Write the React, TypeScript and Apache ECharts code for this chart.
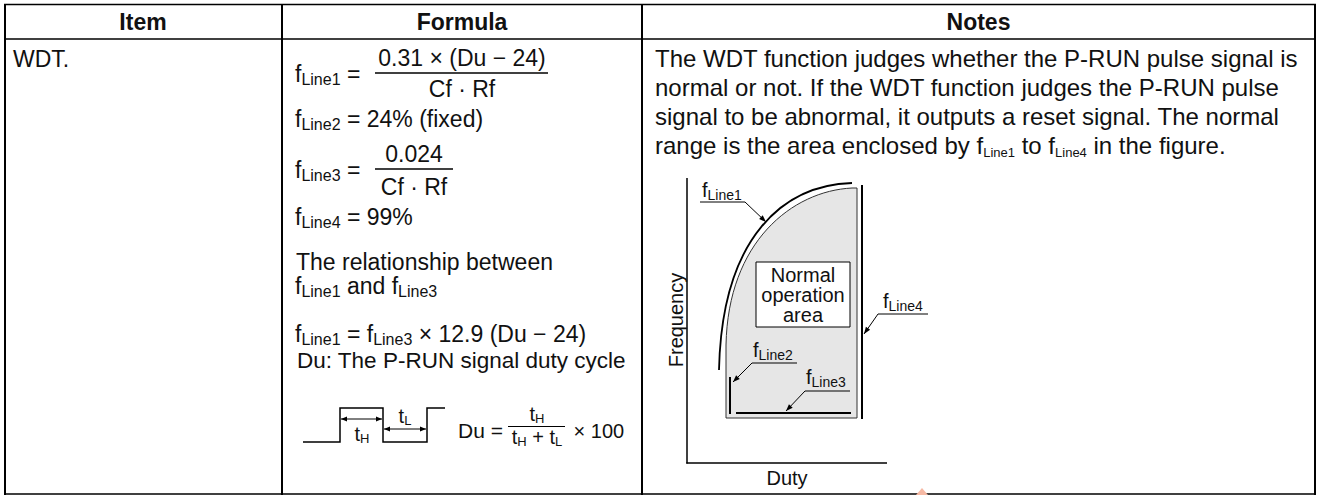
import React, { useEffect, useRef } from 'react';
import * as echarts from 'echarts';

// ---------- content ----------
const headers = ['Item', 'Formula', 'Notes'];
const itemName = 'WDT.';
const notesLines = [
  'The WDT function judges whether the P-RUN pulse signal is',
  'normal or not. If the WDT function judges the P-RUN pulse',
  'signal to be abnormal, it outputs a reset signal. The normal',
];
const notesLast = ['range is the area enclosed by f', 'Line1', ' to f', 'Line4', ' in the figure.'];
const line1Numerator = '0.31 × (Du − 24)';
const denominator = 'Cf · Rf';
const line2Value = ' = 24% (fixed)';
const line3Numerator = '0.024';
const line4Value = ' = 99%';
const relationText = 'The relationship between';
const relationFactor = ' × 12.9 (Du − 24)';
const duText = 'Du: The P-RUN signal duty cycle';
const dutyTimes = ' × 100';
const subNames = ['Line1', 'Line2', 'Line3', 'Line4'];
const areaLabel = ['Normal', 'operation', 'area'];
const axisNames = ['Frequency', 'Duty'];

// ---------- helpers ----------
const FONT = '"Liberation Sans", Arial, Helvetica, sans-serif';
const INK = '#111';
let measureCtx: CanvasRenderingContext2D | null = null;
function tw(text: string, size: number, bold = false): number {
  if (!measureCtx) measureCtx = document.createElement('canvas').getContext('2d');
  measureCtx!.font = `${bold ? 'bold ' : ''}${size}px "Liberation Sans", Arial, sans-serif`;
  return measureCtx!.measureText(text).width;
}
type Seg = { t: string; s: number; dy?: number; b?: boolean };
function textEl(x: number, y: number, t: string, s: number, opts: any = {}) {
  return {
    type: 'text', x, y, silent: true, rotation: opts.rotation || 0,
    style: {
      text: t, fontSize: s, fontFamily: FONT, fontWeight: opts.bold ? 'bold' : 'normal', fill: INK,
      align: opts.align || 'left', verticalAlign: 'middle',
      textAlign: opts.align || 'left', textVerticalAlign: 'middle',
    },
  };
}
function run(x: number, baseline: number, segs: Seg[], center = false): any[] {
  const total = segs.reduce((a, g) => a + tw(g.t, g.s, g.b), 0);
  let cx = center ? x - total / 2 : x;
  const out: any[] = [];
  for (const g of segs) {
    out.push(textEl(cx, baseline + (g.dy || 0) - 0.347 * g.s, g.t, g.s, { bold: g.b }));
    cx += tw(g.t, g.s, g.b);
  }
  return out;
}
function line(x1: number, y1: number, x2: number, y2: number, w = 2, c = '#000') {
  return { type: 'line', silent: true, shape: { x1, y1, x2, y2 }, style: { stroke: c, lineWidth: w } };
}
function arrowHead(x1: number, y1: number, x2: number, y2: number, len = 7, w = 2.6) {
  const dx = x2 - x1, dy = y2 - y1, d = Math.hypot(dx, dy);
  const ux = dx / d, uy = dy / d;
  const bx = x2 - ux * len, by = y2 - uy * len;
  return {
    type: 'polygon', silent: true,
    shape: { points: [[x2, y2], [bx - uy * w, by + ux * w], [bx + uy * w, by - ux * w]] },
    style: { fill: '#000' },
  };
}
function leader(x1: number, y1: number, x2: number, y2: number) {
  return [line(x1, y1, x2, y2, 1), arrowHead(x1, y1, x2, y2)];
}
function dblArrow(x1: number, x2: number, y: number) {
  return [line(x1, y, x2, y, 1), arrowHead(x2, y, x1, y, 6, 2.4), arrowHead(x1, y, x2, y, 6, 2.4)];
}

const AREA_D = 'M852 188 C792 191 728 242 726 345 L726 418 L857 418 L857 188 Z';
let registered = false;
function ensureShapes() {
  if (registered) return;
  echarts.graphic.registerShape('wdtNormalArea', echarts.graphic.extendPath(AREA_D, {}));
  registered = true;
}

function buildElements(): any[] {
  const els: any[] = [];
  const M = 23, S = 16, SD = 3.5;
  // table grid
  els.push(line(4, 4.5, 1316, 4.5, 1.5));
  els.push(line(4, 39, 1316, 39, 1.5));
  els.push(line(4, 494, 1316, 494, 1.5));
  els.push(line(5, 4, 5, 495, 2));
  els.push(line(1315, 4, 1315, 495, 2));
  els.push(line(282, 4, 282, 495, 2));
  els.push(line(642, 4, 642, 495, 2));
  // headers
  const centers = [143, 462, 978.5];
  headers.forEach((h, i) => els.push(textEl(centers[i], 22, h, 23, { bold: true, align: 'center' })));
  // item
  els.push(...run(13, 67, [{ t: itemName, s: M }]));

  // formula column
  const fx = 295;
  const fsub = (n: number) => [{ t: 'f', s: M }, { t: subNames[n], s: S, dy: SD }];
  els.push(...run(fx, 82, [...fsub(0), { t: ' = ', s: M }]));
  els.push(...run(462, 66, [{ t: line1Numerator, s: M }], true));
  els.push(line(375, 73, 548, 73, 1.3));
  els.push(...run(462, 97, [{ t: denominator, s: M }], true));
  els.push(...run(fx, 127, [...fsub(1), { t: line2Value, s: M }]));
  els.push(...run(fx, 178, [...fsub(2), { t: ' = ', s: M }]));
  els.push(...run(414, 162, [{ t: line3Numerator, s: M }], true));
  els.push(line(375, 169, 453, 169, 1.3));
  els.push(...run(414, 195, [{ t: denominator, s: M }], true));
  els.push(...run(fx, 225, [...fsub(3), { t: line4Value, s: M }]));
  els.push(...run(296, 270, [{ t: relationText, s: M }]));
  els.push(...run(fx, 294, [...fsub(0), { t: ' and ', s: M }, ...fsub(2)]));
  els.push(...run(fx, 342, [...fsub(0), { t: ' = ', s: M }, ...fsub(2), { t: relationFactor, s: M }]));
  els.push(...run(297, 368, [{ t: duText, s: 22.5 }]));

  // pulse waveform
  els.push({
    type: 'polyline', silent: true,
    shape: { points: [[303, 442], [340, 442], [340, 408], [383, 408], [383, 442], [427, 442], [427, 408], [445, 408]] },
    style: { stroke: '#000', lineWidth: 1.5, fill: 'none' },
  });
  els.push(...dblArrow(341, 382, 419));
  els.push(...dblArrow(384, 426, 429));
  els.push(...run(362, 441, [{ t: 't', s: 20 }, { t: 'H', s: 13, dy: 2 }], true));
  els.push(...run(405, 423, [{ t: 't', s: 20 }, { t: 'L', s: 13, dy: 2 }], true));
  els.push(...run(458, 438, [{ t: 'Du =', s: 21 }]));
  els.push(...run(537, 421, [{ t: 't', s: 20 }, { t: 'H', s: 13, dy: 2 }], true));
  els.push(line(508, 426.5, 565, 426.5, 1));
  els.push(...run(537, 444, [{ t: 't', s: 20 }, { t: 'H', s: 13, dy: 2 }, { t: ' + t', s: 20 }, { t: 'L', s: 13, dy: 2 }], true));
  els.push(...run(568, 438, [{ t: dutyTimes, s: 20 }]));

  // notes column
  const N = 24;
  notesLines.forEach((l, i) => els.push(...run(655, 67 + 29 * i, [{ t: l, s: N }])));
  els.push(...run(655, 154, notesLast.map((t, i) => (i % 2 === 1 ? { t, s: 13, dy: 3 } : { t, s: N }))));

  // diagram
  els.push({ type: 'wdtNormalArea', x: 0, y: 0, silent: true, style: { fill: '#e6e6e6', stroke: '#333', lineWidth: 1 } });
  els.push({
    type: 'bezierCurve', silent: true,
    shape: { x1: 852, y1: 183, cpx1: 785, cpy1: 185, cpx2: 722, cpy2: 235, x2: 719, y2: 370 },
    style: { stroke: '#000', lineWidth: 1.8, fill: 'none' },
  });
  els.push(line(862, 185, 862, 419, 2));
  els.push(line(730, 377, 730, 414, 2));
  els.push(line(736, 413, 851, 413, 2));
  els.push({ type: 'rect', silent: true, shape: { x: 756, y: 262, width: 94, height: 65 }, style: { fill: '#fff', stroke: '#000', lineWidth: 1 } });
  areaLabel.forEach((t, i) => els.push(textEl(803, 275 + 20 * i, t, 20, { align: 'center' })));
  // axes
  els.push(line(687, 178, 687, 463.5, 1.5));
  els.push(line(686.3, 463, 887, 463, 1.5));
  els.push(textEl(676, 320, axisNames[0], 20, { align: 'center', rotation: Math.PI / 2 }));
  els.push(textEl(787, 478, axisNames[1], 20, { align: 'center' }));
  // labels with leaders
  const lab = (x: number, b: number, n: number) => run(x, b, [{ t: 'f', s: 20 }, { t: subNames[n], s: 14, dy: 3 }]);
  els.push(...lab(702, 197, 0));
  els.push(line(700, 202, 745, 202, 1));
  els.push(...leader(745, 202, 766, 222));
  els.push(...lab(883, 308, 3));
  els.push(line(878, 314, 928, 314, 1));
  els.push(...leader(878, 314, 864, 334));
  els.push(...lab(753, 357, 1));
  els.push(line(752, 363, 797, 363, 1));
  els.push(...leader(752, 363, 733, 382));
  els.push(...lab(806, 384, 2));
  els.push(line(805, 391, 850, 391, 1));
  els.push(...leader(805, 391, 786, 411));
  // faint watermark fragment
  els.push({ type: 'polygon', silent: true, shape: { points: [[916, 495], [922, 488], [928, 495]] }, style: { fill: '#f6b9a4' } });
  return els;
}

export default function App() {
  const ref = useRef<HTMLDivElement>(null);
  useEffect(() => {
    if (!ref.current) return;
    ensureShapes();
    const chart = echarts.init(ref.current, undefined, { renderer: 'svg' });
    chart.setOption({ animation: false, backgroundColor: '#fff', graphic: { elements: buildElements() } });
    return () => chart.dispose();
  }, []);
  return <div ref={ref} style={{ position: 'fixed', left: 0, top: 0, width: 1319, height: 495, background: '#fff' }} />;
}
